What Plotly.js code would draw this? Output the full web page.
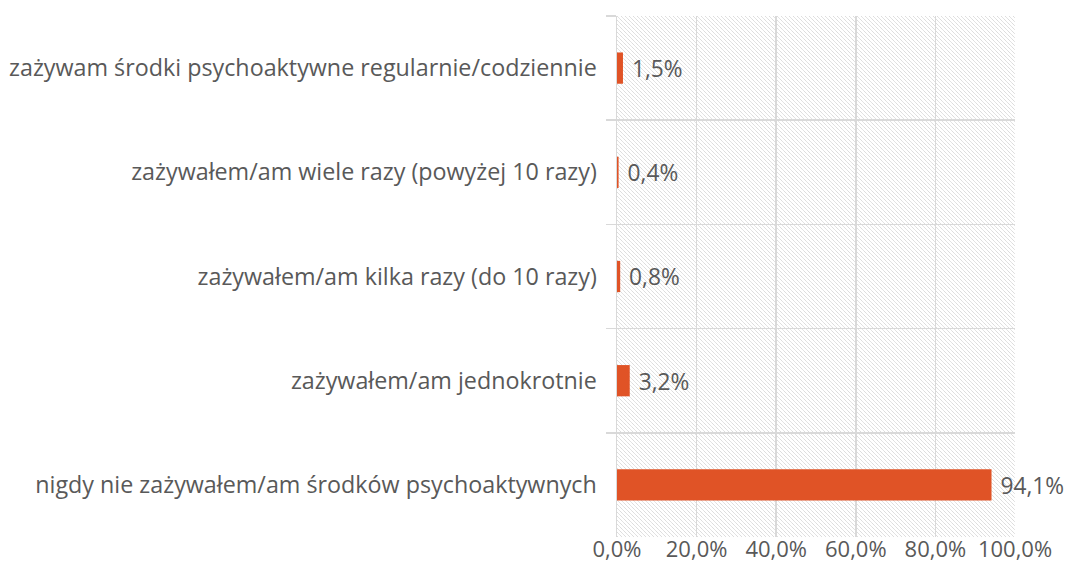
<!DOCTYPE html>
<html>
<head>
<meta charset="utf-8">
<script src="https://cdn.plot.ly/plotly-3.0.1.min.js"></script>
<style>html,body{margin:0;padding:0;background:#fff;}#chart{width:1070px;height:566px;}</style>
</head>
<body>
<div id="chart"></div>
<script>
const categories = [
  "zażywam środki psychoaktywne regularnie/codziennie",
  "zażywałem/am wiele razy (powyżej 10 razy)",
  "zażywałem/am kilka razy (do 10 razy)",
  "zażywałem/am jednokrotnie",
  "nigdy nie zażywałem/am środków psychoaktywnych"
];
const values = [1.5, 0.4, 0.8, 3.2, 94.1];
const xTickValues = [0, 20, 40, 60, 80, 100];
const xTickLabels = ["0,0%", "20,0%", "40,0%", "60,0%", "80,0%", "100,0%"];

const W = 1070, H = 566;
const margin = {l: 617, r: 55, t: 16, b: 29, pad: 0};
const pw = W - margin.l - margin.r, ph = H - margin.t - margin.b;

const svg = `<svg xmlns="http://www.w3.org/2000/svg" width="${pw}" height="${ph}"><defs><pattern id="p" width="4" height="4" patternUnits="userSpaceOnUse"><rect width="4" height="4" fill="#ffffff"/><path d="M-1,-1 L1,1 M0,0 L4,4 M3,3 L5,5" stroke="#dcdcdc" stroke-width="0.8"/></pattern></defs><rect width="${pw}" height="${ph}" fill="url(#p)"/></svg>`;
const src = "data:image/svg+xml;charset=utf-8," + encodeURIComponent(svg);

const font = "'Open Sans', sans-serif";
const trace = {
  type: "bar",
  orientation: "h",
  y: categories,
  x: values,
  width: 0.3,
  marker: {color: "#E05326"},
  text: values,
  texttemplate: " %{x:.1f}%",
  textposition: "outside",
  cliponaxis: false,
  textfont: {family: font, size: 24, color: "#595959"},
  hoverinfo: "skip"
};

const layout = {
  width: W, height: H,
  margin: margin,
  separators: ", ",
  paper_bgcolor: "#ffffff",
  plot_bgcolor: "rgba(0,0,0,0)",
  showlegend: false,
  font: {family: font, color: "#595959", size: 23},
  images: [{source: src, xref: "paper", yref: "paper", x: 0, y: 1, sizex: 1, sizey: 1, sizing: "stretch", xanchor: "left", yanchor: "top", layer: "below"}],
  xaxis: {
    range: [0, 100],
    tickmode: "array",
    tickvals: xTickValues,
    ticktext: xTickLabels,
    showgrid: true, gridcolor: "#d9d9d9", gridwidth: 1.5,
    zeroline: false, showline: false, ticks: "",
    ticklabelstandoff: -3,
    tickfont: {family: font, size: 22, color: "#595959"},
    fixedrange: true
  },
  yaxis: {
    type: "category",
    autorange: "reversed",
    tickson: "boundaries",
    ticks: "outside", ticklen: 10, tickcolor: "#d9d9d9", tickwidth: 1.5,
    showgrid: true, gridcolor: "#d9d9d9", gridwidth: 1.5,
    showline: true, linecolor: "#d9d9d9", linewidth: 1.5,
    zeroline: false,
    ticklabelstandoff: 14,
    tickfont: {family: font, size: 23.3, color: "#595959"},
    fixedrange: true
  }
};

Plotly.newPlot("chart", [trace], layout, {displayModeBar: false, staticPlot: true});
</script>
</body>
</html>
